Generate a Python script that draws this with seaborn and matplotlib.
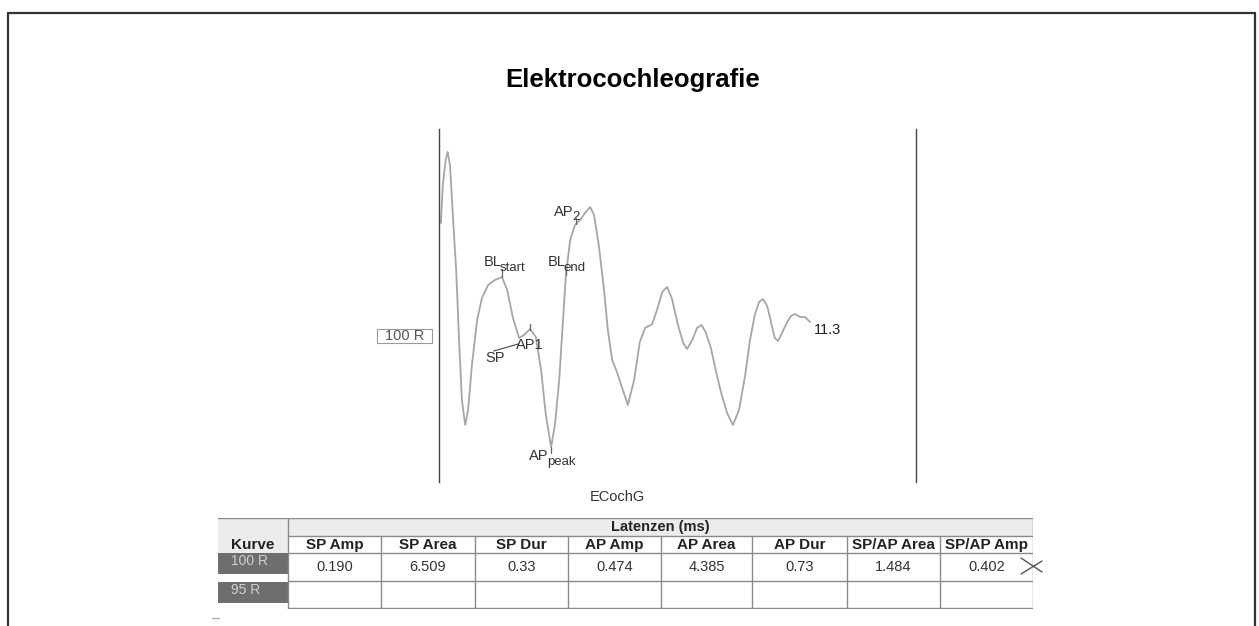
import matplotlib
matplotlib.use("Agg")
import matplotlib.pyplot as plt
from matplotlib.lines import Line2D
from matplotlib.patches import Rectangle
import numpy as np
import pandas as pd
import seaborn as sns

# ---------------- data ----------------
time_ms = [0.04, 0.08, 0.14, 0.18, 0.23, 0.29, 0.36, 0.42, 0.48, 0.55, 0.61, 0.69, 0.80, 0.90,
           1.03, 1.17, 1.32, 1.43, 1.55, 1.68, 1.78, 1.91, 2.03, 2.14, 2.24, 2.35, 2.43, 2.52,
           2.60, 2.66, 2.75, 2.85, 2.96, 3.06, 3.17, 3.25, 3.35, 3.46, 3.54, 3.63, 3.73, 3.82,
           3.96, 4.09, 4.21, 4.32, 4.47, 4.57, 4.68, 4.78, 4.88, 5.01, 5.12, 5.20, 5.31, 5.41,
           5.50, 5.59, 5.70, 5.81, 5.91, 6.04, 6.16, 6.29, 6.42, 6.52, 6.62, 6.71, 6.79, 6.88,
           6.96, 7.04, 7.11, 7.19, 7.30, 7.38, 7.46, 7.57, 7.67, 7.78]
amplitude = [1.13, 1.51, 1.76, 1.84, 1.71, 1.21, 0.66, -0.04, -0.64, -0.89, -0.74, -0.29, 0.16, 0.38,
             0.51, 0.56, 0.59, 0.46, 0.18, -0.02, 0.01, 0.07, -0.01, -0.34, -0.79, -1.11, -0.89, -0.44,
             0.16, 0.61, 0.96, 1.11, 1.16, 1.23, 1.29, 1.21, 0.91, 0.46, 0.06, -0.24, -0.36, -0.49,
             -0.69, -0.44, -0.06, 0.08, 0.12, 0.26, 0.44, 0.49, 0.38, 0.11, -0.07, -0.13, -0.04, 0.08,
             0.11, 0.04, -0.12, -0.36, -0.56, -0.77, -0.89, -0.74, -0.39, -0.04, 0.21, 0.34, 0.37, 0.30,
             0.14, -0.02, -0.05, 0.03, 0.14, 0.20, 0.22, 0.19, 0.19, 0.14]

curve_label = "100 R"
end_label = "11.3"

# markers on the curve
marker_main = ["BL", "AP", "BL", "AP"]
marker_sub = ["start", "peak", "end", "2"]
marker_time = [1.32, 2.35, 2.66, 2.87]
marker_amp = [0.59, -1.11, 0.61, 1.12]
ap1_time, ap1_amp = 1.91, 0.07
sp_time, sp_amp = 1.66, -0.08

table_group = "Latenzen (ms)"
table_columns = ["SP Amp", "SP Area", "SP Dur", "AP Amp", "AP Area", "AP Dur", "SP/AP Area", "SP/AP Amp"]
table_rows = ["100 R", "95 R"]
row_100R = ["0.190", "6.509", "0.33", "0.474", "4.385", "0.73", "1.484", "0.402"]
row_95R = ["", "", "", "", "", "", "", ""]

# ---------------- style ----------------
sns.set_theme(style="white")
plt.rcParams["font.family"] = ["Liberation Sans", "DejaVu Sans"]

W, H = 1259, 626
fig = plt.figure(figsize=(W / 100, H / 100), dpi=100)
fig.patch.set_facecolor("white")

def fx(px):
    return px / W

def fy(py):
    return 1 - py / H

# outer frame (bottom edge cut off)
for xs, ys in [([8, 8], [13, 640]), ([8, 1255], [13, 13]), ([1255, 1255], [13, 640])]:
    fig.add_artist(Line2D([fx(x) for x in xs], [fy(y) for y in ys], color="#333333", lw=1.6))

fig.text(fx(633), fy(80), "Elektrocochleografie", ha="center", va="center",
         fontsize=18.5, fontweight="bold", color="black")

# ---------------- waveform ----------------
ax = fig.add_axes([fx(439), fy(482), fx(916) - fx(439), fy(129) - fy(482)])
df = pd.DataFrame({"t": time_ms, "a": amplitude})
sns.lineplot(data=df, x="t", y="a", ax=ax, color="#a6a6a6", lw=1.3, sort=False)
ax.set_xlim(0, 10)
ax.set_ylim(-1.46, 2.07)
ax.set_xticks([])
ax.set_yticks([])
ax.set_xlabel("")
ax.set_ylabel("")
ax.set_facecolor("white")
for s in ["top", "bottom"]:
    ax.spines[s].set_visible(False)
for s in ["left", "right"]:
    ax.spines[s].set_visible(True)
    ax.spines[s].set_color("#444444")
    ax.spines[s].set_linewidth(1.0)

lab_col = "#333333"
fs_main = 10.5
fs_sub = 9.5
tick_col = "#666666"

def sub_label(t_right, base, main, sub, sub_drop):
    ax.text(t_right, base, main, ha="right", va="baseline", fontsize=fs_main, color=lab_col)
    ax.text(t_right - 0.03, base - sub_drop, sub, ha="left", va="baseline", fontsize=fs_sub,
            color=lab_col)

# BL start
ax.plot([marker_time[0]] * 2, [marker_amp[0], marker_amp[0] + 0.08], color=tick_col, lw=0.9)
sub_label(1.31, 0.70, marker_main[0], marker_sub[0], 0.05)
# AP peak
ax.plot([marker_time[1]] * 2, [marker_amp[1], marker_amp[1] - 0.06], color=tick_col, lw=0.9)
sub_label(2.30, -1.245, marker_main[1], marker_sub[1], 0.05)
# BL end
ax.plot([marker_time[2]] * 2, [marker_amp[2], marker_amp[2] + 0.06], color=tick_col, lw=0.9)
sub_label(2.65, 0.70, marker_main[2], marker_sub[2], 0.05)
# AP2
ax.plot([marker_time[3]] * 2, [marker_amp[3], marker_amp[3] + 0.06], color=tick_col, lw=0.9)
sub_label(2.82, 1.20, marker_main[3], marker_sub[3], 0.04)
# AP1
ax.plot([ap1_time] * 2, [ap1_amp - 0.01, ap1_amp + 0.05], color=tick_col, lw=0.9)
ax.text(ap1_time, -0.09, "AP1", ha="center", va="center", fontsize=fs_main, color=lab_col)
# SP
ax.plot([1.15, sp_time], [-0.15, sp_amp], color="#555", lw=0.9)
ax.text(1.17, -0.22, "SP", ha="center", va="center", fontsize=fs_main, color=lab_col)

# end label
ax.text(time_ms[-1] + 0.07, amplitude[-1] - 0.08, end_label, ha="left", va="center",
        fontsize=fs_main, color="#222222")

# curve label box at the left
fig.add_artist(Rectangle((fx(377), fy(343)), fx(432) - fx(377), fy(329) - fy(343),
                         transform=fig.transFigure, fc="white", ec="#9a9a9a", lw=0.8))
fig.text(fx(404.5), fy(336), curve_label, ha="center", va="center", fontsize=10.5,
         color="#555555")

fig.text(fx(617), fy(497), "ECochG", ha="center", va="center", fontsize=10.5, color="#333333")

# ---------------- table ----------------
x0, x1 = 218, 1033
y0, y1 = 518, 609
tax = fig.add_axes([fx(x0), fy(y1), fx(x1) - fx(x0), fy(y0) - fy(y1)])
tax.set_xlim(x0, x1)
tax.set_ylim(y1, y0)
tax.axis("off")

col_edges = [288, 381, 475, 568, 661, 752, 847, 940, 1033]
row_edges = [518, 536, 553, 581, 609]
grid_col = "#8a8a8a"

# backgrounds
tax.add_patch(Rectangle((x0, row_edges[0]), col_edges[0] - x0, row_edges[2] - row_edges[0],
                        fc="#ececec", ec="none"))
tax.add_patch(Rectangle((col_edges[0], row_edges[0]), x1 - col_edges[0], row_edges[1] - row_edges[0],
                        fc="#ececec", ec="none"))
tax.add_patch(Rectangle((x0, 553), col_edges[0] - x0, 21, fc="#6e6e6e", ec="none"))
tax.add_patch(Rectangle((x0, 582), col_edges[0] - x0, 21, fc="#6e6e6e", ec="none"))

# grid lines
tax.plot([x0, x1], [row_edges[0]] * 2, color=grid_col, lw=1.0)
tax.plot([col_edges[0], x1], [row_edges[1]] * 2, color=grid_col, lw=1.0)
tax.plot([col_edges[0], x1], [row_edges[2]] * 2, color=grid_col, lw=1.0)
tax.plot([col_edges[0], x1], [row_edges[3]] * 2, color=grid_col, lw=1.0)
tax.plot([col_edges[0], x1], [row_edges[4] - 1] * 2, color=grid_col, lw=1.0)
tax.plot([col_edges[0]] * 2, [row_edges[0], row_edges[4] - 1], color=grid_col, lw=1.0)
tax.plot([x1 - 0.5] * 2, [row_edges[0], row_edges[4] - 1], color=grid_col, lw=1.0)
for ce in col_edges[1:-1]:
    tax.plot([ce] * 2, [row_edges[1], row_edges[4] - 1], color=grid_col, lw=1.0)

tax.text((x0 + col_edges[0]) / 2, 545, "Kurve", ha="center", va="center", fontsize=11,
         fontweight="bold", color="#222")
tax.text((col_edges[0] + x1) / 2, 527, table_group, ha="center", va="center", fontsize=10.5,
         fontweight="bold", color="#222")
for i, name in enumerate(table_columns):
    cx = (col_edges[i] + col_edges[i + 1]) / 2
    tax.text(cx, 545, name, ha="center", va="center", fontsize=11, fontweight="bold", color="#222")
    tax.text(cx, 567, row_100R[i], ha="center", va="center", fontsize=10.5, color="#333")
    tax.text(cx, 594, row_95R[i], ha="center", va="center", fontsize=10.5, color="#333")
tax.text(231, 561, table_rows[0], ha="left", va="center", fontsize=10, color="#d0d0d0")
tax.text(231, 590, table_rows[1], ha="left", va="center", fontsize=10, color="#d0d0d0")

# hand-drawn cross next to the table
tax.plot([1021, 1042], [558, 572], color="#555", lw=1.0, clip_on=False)
tax.plot([1021, 1042], [574, 561], color="#555", lw=1.0, clip_on=False)

fig.add_artist(Line2D([fx(212), fx(219)], [fy(618), fy(618)], color="#aaaaaa", lw=1.0))

fig.savefig("out.png", dpi=100, facecolor="white")
